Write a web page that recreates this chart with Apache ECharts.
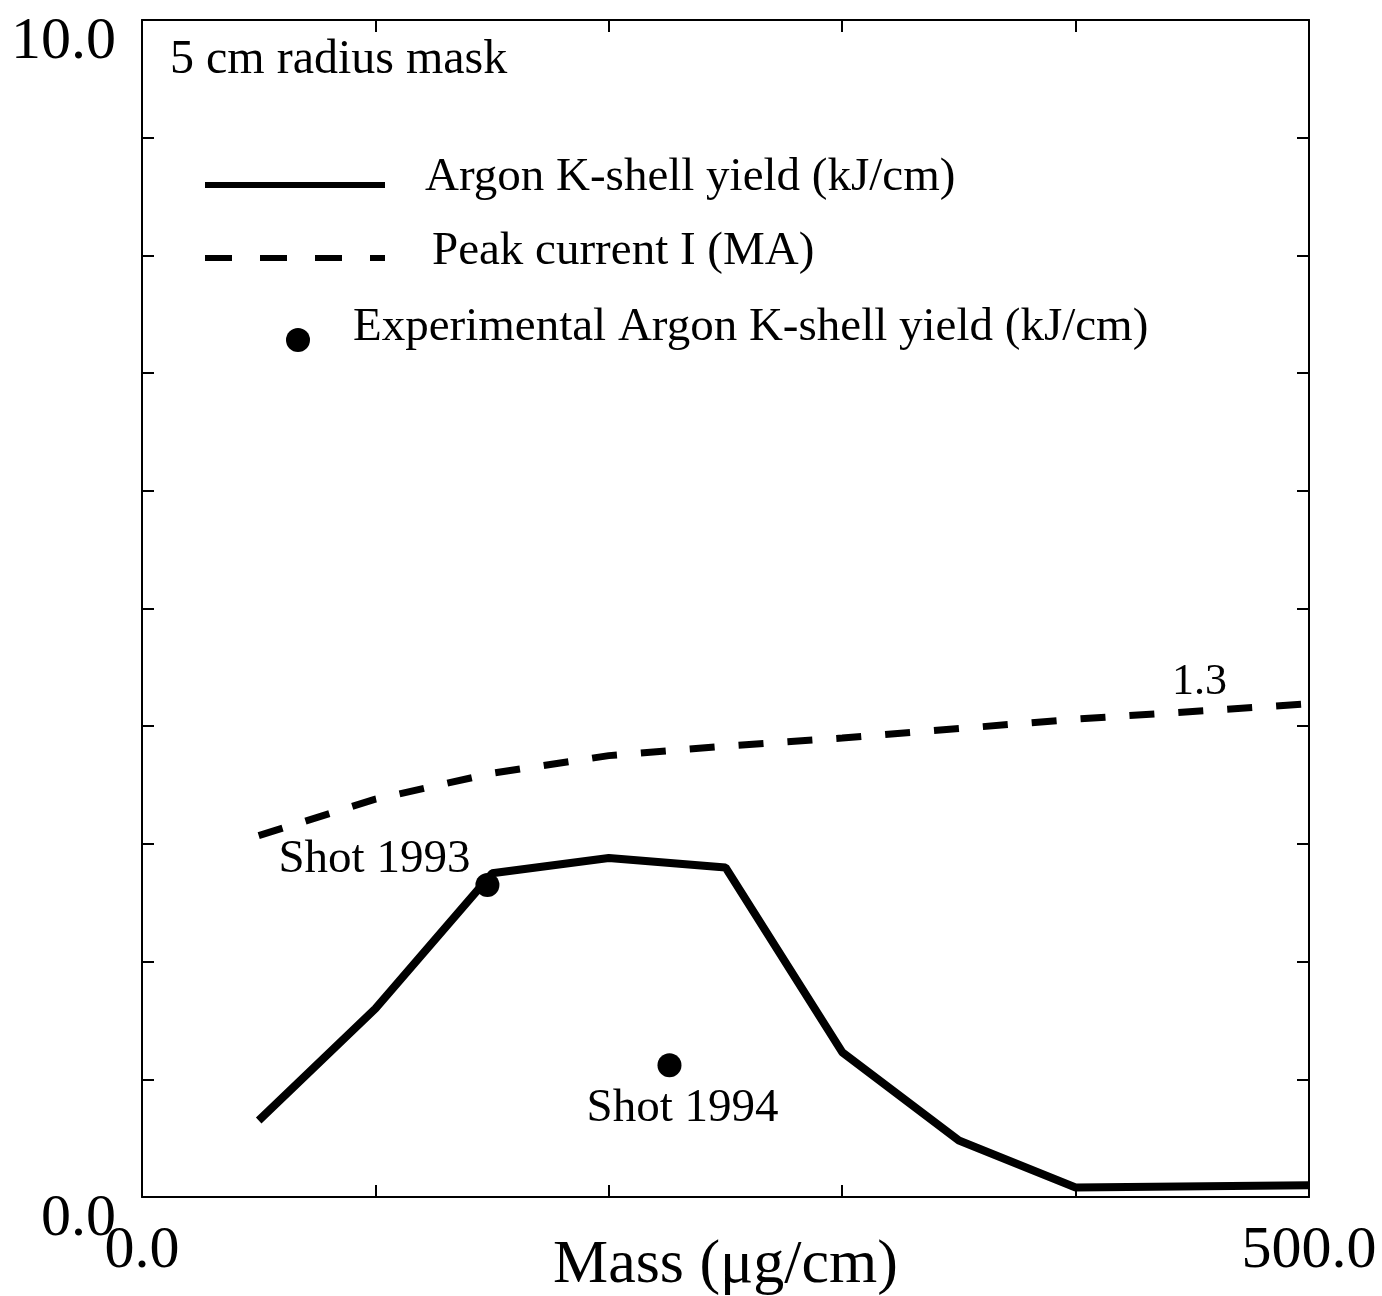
<!DOCTYPE html>
<html>
<head>
<meta charset="utf-8">
<script src="https://cdn.jsdelivr.net/npm/echarts@6/dist/echarts.min.js"></script>
<style>
  html, body { margin: 0; padding: 0; background: #fff; }
  #main { width: 1382px; height: 1296px; }
</style>
</head>
<body>
<div id="main"></div>
<script>
// values
const massValues = [50, 100, 150, 200, 250, 300, 350, 400, 500]
const yieldValues = [0.65, 1.6, 2.75, 2.88, 2.8, 1.23, 0.48, 0.08, 0.1]
const currentValues = [3.07, 3.38, 3.6, 3.75, 3.83, 3.9, 3.98, 4.06, 4.19]
const shotMass = [148, 226]
const shotYield = [2.65, 1.12]
const shotNames = ['Shot 1993', 'Shot 1994']

const xLabelValues = [0, 500]
const xLabelTexts = ['0.0', '500.0']
const yLabelValues = [0, 10]
const yLabelTexts = ['0.0', '10.0']

const FONT = '"Liberation Serif", "Times New Roman", serif'
const black = '#000'

function pickLabel(values, texts) {
  return (v) => {
    const i = values.indexOf(v)
    return i >= 0 ? texts[i] : ''
  }
}

const axisLineStyle = { show: true, onZero: false, lineStyle: { color: black, width: 2 } }
const tickStyle = { show: true, inside: true, length: 12, lineStyle: { color: black, width: 2 } }

const chart = echarts.init(document.getElementById('main'))

const option = {
  backgroundColor: '#fff',
  animation: false,
  grid: { left: 142, top: 20, right: 73, bottom: 99, containLabel: false, outerBoundsMode: 'none' },
  xAxis: [
    {
      type: 'value',
      min: 0,
      max: 500,
      interval: 100,
      position: 'bottom',
      name: 'Mass (μg/cm)',
      nameLocation: 'middle',
      nameGap: 38,
      nameMoveOverlap: false,
      nameTextStyle: { fontFamily: FONT, fontSize: 62, color: black },
      axisLine: axisLineStyle,
      axisTick: tickStyle,
      splitLine: { show: false },
      axisLabel: {
        margin: 24,
        fontFamily: FONT,
        fontSize: 60,
        color: black,
        showMinLabel: true,
        showMaxLabel: true,
        formatter: pickLabel(xLabelValues, xLabelTexts),
      },
    },
    {
      type: 'value',
      min: 0,
      max: 500,
      interval: 100,
      position: 'top',
      axisLine: axisLineStyle,
      axisTick: tickStyle,
      axisLabel: { show: false },
      splitLine: { show: false },
    },
  ],
  yAxis: [
    {
      type: 'value',
      min: 0,
      max: 10,
      interval: 1,
      position: 'left',
      axisLine: axisLineStyle,
      axisTick: tickStyle,
      splitLine: { show: false },
      axisLabel: {
        margin: 26,
        fontFamily: FONT,
        fontSize: 60,
        lineHeight: 44,
        color: black,
        verticalAlign: 'top',
        showMinLabel: true,
        showMaxLabel: true,
        formatter: pickLabel(yLabelValues, yLabelTexts),
      },
    },
    {
      type: 'value',
      min: 0,
      max: 10,
      interval: 1,
      position: 'right',
      axisLine: axisLineStyle,
      axisTick: tickStyle,
      axisLabel: { show: false },
      splitLine: { show: false },
    },
  ],
  series: [
    {
      name: 'Argon K-shell yield (kJ/cm)',
      type: 'line',
      data: massValues.map((m, i) => [m, yieldValues[i]]),
      symbol: 'none',
      lineStyle: { color: black, width: 8 },
      z: 3,
    },
    {
      name: 'Peak current I (MA)',
      type: 'line',
      data: massValues.map((m, i) => [m, currentValues[i]]),
      symbol: 'none',
      lineStyle: { color: black, width: 7, type: [25, 24] },
      z: 3,
    },
    {
      name: 'Experimental Argon K-shell yield (kJ/cm)',
      type: 'scatter',
      symbolSize: 24,
      itemStyle: { color: black, opacity: 1 },
      z: 4,
      data: shotMass.map((m, i) => ({
        value: [m, shotYield[i]],
        name: shotNames[i],
        label: {
          show: true,
          position: 'inside',
          offset: i === 0 ? [-113, -25] : [13, 43],
          formatter: '{b}',
          fontFamily: FONT,
          fontSize: 47,
          color: black,
        },
      })),
    },
  ],
  graphic: [
    { type: 'text', left: 170, top: 36, style: { text: '5 cm radius mask', font: '48px ' + FONT, fill: black } },
    // legend
    { type: 'line', shape: { x1: 205, y1: 185, x2: 385, y2: 185 }, style: { stroke: black, lineWidth: 6 } },
    { type: 'text', left: 425, top: 154, style: { text: 'Argon K-shell yield (kJ/cm)', font: '47px ' + FONT, fill: black } },
    { type: 'line', shape: { x1: 205, y1: 258, x2: 385, y2: 258 }, style: { stroke: black, lineWidth: 6, lineDash: [27, 28] } },
    { type: 'text', left: 432, top: 228, style: { text: 'Peak current I (MA)', font: '47px ' + FONT, fill: black } },
    { type: 'circle', shape: { cx: 298, cy: 340, r: 12 }, style: { fill: black } },
    { type: 'text', left: 353, top: 304, style: { text: 'Experimental Argon K-shell yield (kJ/cm)', font: '47px ' + FONT, fill: black } },
    // annotation on the current curve
    { type: 'text', left: 1172, top: 660, style: { text: '1.3', font: '44px ' + FONT, fill: black } },
  ],
}

chart.setOption(option)
</script>
</body>
</html>
